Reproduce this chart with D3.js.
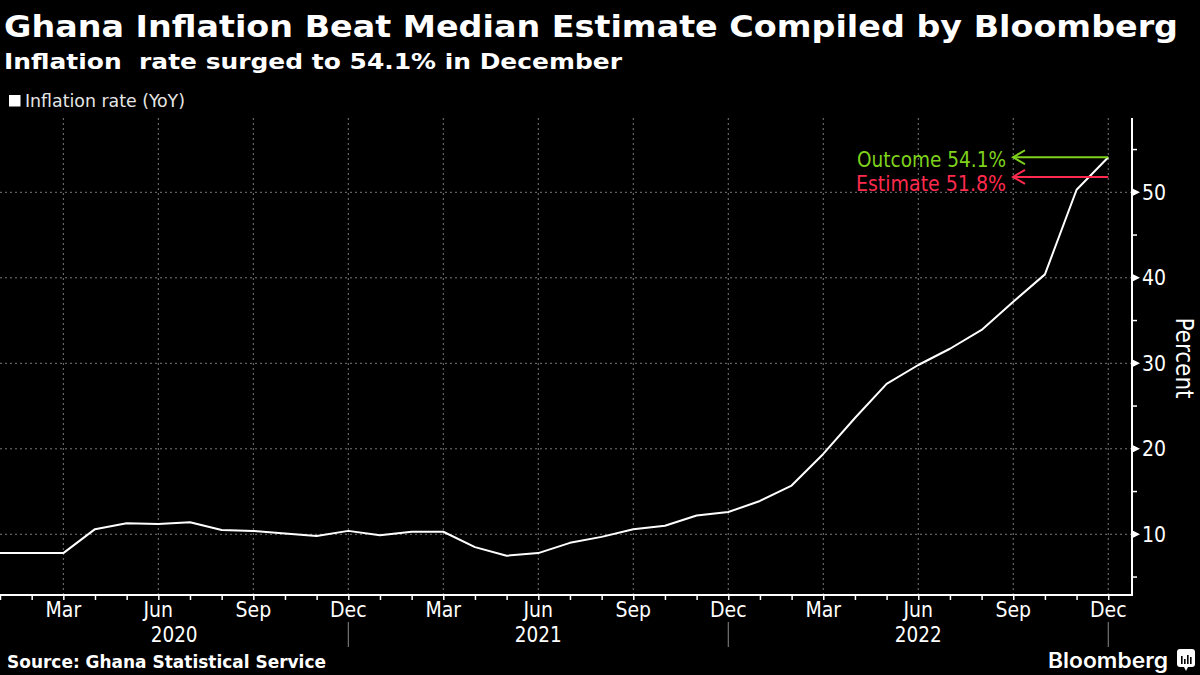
<!DOCTYPE html>
<html>
<head>
<meta charset="utf-8">
<script src="https://cdn.jsdelivr.net/npm/d3@7"></script>
<style>
  html, body { margin: 0; padding: 0; background: #000; }
  svg { display: block; }
  .cond { font-family: "DejaVu Sans Condensed", "Liberation Sans Narrow", "DejaVu Sans", sans-serif; }
  .bold { font-family: "DejaVu Sans", sans-serif; font-weight: bold; }
</style>
</head>
<body>
<svg id="chart" width="1200" height="675"></svg>
<script>
// ---- data ----
const months = [
  "2020-01","2020-02","2020-03","2020-04","2020-05","2020-06","2020-07","2020-08","2020-09","2020-10","2020-11","2020-12",
  "2021-01","2021-02","2021-03","2021-04","2021-05","2021-06","2021-07","2021-08","2021-09","2021-10","2021-11","2021-12",
  "2022-01","2022-02","2022-03","2022-04","2022-05","2022-06","2022-07","2022-08","2022-09","2022-10","2022-11","2022-12"
];
const inflation = [
  7.8, 7.8, 7.8, 10.6, 11.3, 11.2, 11.4, 10.5, 10.4, 10.1, 9.8, 10.4,
  9.9, 10.3, 10.3, 8.5, 7.5, 7.8, 9.0, 9.7, 10.6, 11.0, 12.2, 12.6,
  13.9, 15.7, 19.4, 23.6, 27.6, 29.8, 31.7, 33.9, 37.2, 40.4, 50.3, 54.1
];
const quarterMonthLabels = ["Mar", "Jun", "Sep", "Dec"];
const yearLabels = ["2020", "2021", "2022"];
const yTickValues = [10, 20, 30, 40, 50];
const yMinorTickValues = [5, 15, 25, 35, 45, 55];
const outcomeValue = 54.1;
const estimateValue = 51.8;
const title = "Ghana Inflation Beat Median Estimate Compiled by Bloomberg";
const subtitle = "Inflation\u00a0 rate surged to 54.1% in December";
const legendLabel = "Inflation rate (YoY)";
const sourceText = "Source: Ghana Statistical Service";

// ---- layout ----
const svg = d3.select("#chart");
const plot = { left: 0, right: 1132, top: 118, bottom: 595 };
const x = d3.scaleLinear().domain([0, 35.75]).range([plot.left, plot.right]);
const y = d3.scaleLinear().domain([2.9, 58.69]).range([plot.bottom, plot.top]);
const green = "#7fd21c";
const red = "#ff2a4d";
const gridColor = "#7a7a7a";

// title / subtitle
svg.append("text").attr("class", "bold").attr("x", 4).attr("y", 37)
  .attr("font-size", 31).attr("fill", "#fff")
  .attr("textLength", 1174).attr("lengthAdjust", "spacingAndGlyphs").text(title);
svg.append("text").attr("class", "bold").attr("x", 4).attr("y", 69)
  .attr("font-size", 22).attr("fill", "#fff")
  .attr("textLength", 618).attr("lengthAdjust", "spacingAndGlyphs").text(subtitle);

// legend
svg.append("rect").attr("x", 9).attr("y", 95).attr("width", 11.5).attr("height", 11.5).attr("fill", "#fff");
svg.append("text").attr("class", "cond").attr("x", 25).attr("y", 107)
  .attr("font-size", 17).attr("fill", "#e6e6e6")
  .attr("textLength", 160).attr("lengthAdjust", "spacingAndGlyphs").text(legendLabel);

// gridlines
const quarterIdx = d3.range(2, 36, 3);
svg.append("g").selectAll("line").data(quarterIdx).join("line")
  .attr("x1", d => x(d)).attr("x2", d => x(d))
  .attr("y1", plot.top).attr("y2", plot.bottom)
  .attr("stroke", gridColor).attr("stroke-width", 1).attr("stroke-dasharray", "2,3");
svg.append("g").selectAll("line").data(yTickValues).join("line")
  .attr("x1", plot.left).attr("x2", plot.right)
  .attr("y1", d => y(d)).attr("y2", d => y(d))
  .attr("stroke", gridColor).attr("stroke-width", 1).attr("stroke-dasharray", "2,3");

// x axis
const xAxis = d3.axisBottom(x).tickValues(d3.range(0, 36)).tickSize(5).tickFormat("");
const gx = svg.append("g").attr("transform", `translate(0,${plot.bottom})`).call(xAxis);
gx.select(".domain").attr("stroke", "#fff").attr("stroke-width", 2).attr("d", `M${plot.left},0H${plot.right}`);
gx.selectAll(".tick line").attr("stroke", "#fff").attr("stroke-width", 1.5);
svg.append("g").selectAll("text").data(quarterIdx).join("text")
  .attr("class", "cond").attr("x", d => x(d)).attr("y", 617)
  .attr("text-anchor", "middle").attr("font-size", 21).attr("fill", "#fff")
  .text(d => quarterMonthLabels[((d - 2) / 3) % 4]);
// year labels and separators
const yearEnds = [11, 23, 35];
svg.append("g").selectAll("line").data(yearEnds).join("line")
  .attr("x1", d => x(d)).attr("x2", d => x(d)).attr("y1", 622).attr("y2", 647)
  .attr("stroke", "#8a8a8a").attr("stroke-width", 1);
svg.append("g").selectAll("text").data(yearLabels).join("text")
  .attr("class", "cond")
  .attr("x", (d, i) => ((i === 0 ? plot.left : x(yearEnds[i - 1])) + x(yearEnds[i])) / 2)
  .attr("y", 642).attr("text-anchor", "middle").attr("font-size", 20.5).attr("fill", "#fff")
  .text(d => d);

// y axis
const gy = svg.append("g").attr("transform", `translate(${plot.right},0)`);
gy.append("line").attr("x1", 0).attr("x2", 0).attr("y1", plot.top).attr("y2", plot.bottom + 1)
  .attr("stroke", "#fff").attr("stroke-width", 2);
gy.selectAll("path.maj").data(yTickValues).join("path").attr("class", "maj")
  .attr("d", d => `M1,${y(d) - 3.5}L8,${y(d)}L1,${y(d) + 3.5}Z`).attr("fill", "#fff");
gy.selectAll("line.min").data(yMinorTickValues).join("line").attr("class", "min")
  .attr("x1", 0).attr("x2", 5).attr("y1", d => y(d)).attr("y2", d => y(d))
  .attr("stroke", "#fff").attr("stroke-width", 1.5);
gy.selectAll("text").data(yTickValues).join("text")
  .attr("class", "cond").attr("x", 10).attr("y", d => y(d) + 7.5)
  .attr("font-size", 21).attr("fill", "#fff").text(d => d);
svg.append("text").attr("class", "cond")
  .attr("transform", `translate(1176,358) rotate(90)`)
  .attr("text-anchor", "middle").attr("font-size", 24).attr("fill", "#fff").text("Percent");

// line
const line = d3.line().x((d, i) => x(i)).y(d => y(d));
svg.append("path").datum(inflation).attr("d", line)
  .attr("fill", "none").attr("stroke", "#fff").attr("stroke-width", 2).attr("stroke-linejoin", "round");

// annotations
const annotations = [
  { value: outcomeValue, label: "Outcome 54.1%", color: green, dy: 10 },
  { value: estimateValue, label: "Estimate 51.8%", color: red, dy: 14 }
];
const tipX = 1013;
const lastX = x(35);
const ag = svg.append("g");
annotations.forEach(a => {
  const yy = y(a.value);
  ag.append("line").attr("x1", tipX).attr("x2", lastX).attr("y1", yy).attr("y2", yy)
    .attr("stroke", a.color).attr("stroke-width", 2);
  ag.append("path").attr("d", `M${tipX + 12},${yy - 7}L${tipX},${yy}L${tipX + 12},${yy + 7}`)
    .attr("fill", "none").attr("stroke", a.color).attr("stroke-width", 2);
  ag.append("text").attr("class", "cond").attr("x", 1006).attr("y", yy + a.dy)
    .attr("text-anchor", "end").attr("font-size", 21).attr("fill", a.color)
    .attr("textLength", a.value === outcomeValue ? 149 : 150).attr("lengthAdjust", "spacingAndGlyphs")
    .text(a.label);
});

// footer
svg.append("text").attr("class", "bold").attr("x", 7).attr("y", 668)
  .attr("font-size", 17).attr("fill", "#fff")
  .attr("textLength", 319).attr("lengthAdjust", "spacingAndGlyphs").text(sourceText);
svg.append("text").attr("x", 1168).attr("y", 668).attr("text-anchor", "end")
  .attr("font-family", "Inter, 'Noto Sans', sans-serif").attr("font-weight", 600)
  .attr("font-size", 21).attr("fill", "#fff")
  .attr("textLength", 120).attr("lengthAdjust", "spacingAndGlyphs").text("Bloomberg");
const logo = svg.append("g").attr("transform", "translate(1177,649)");
logo.append("rect").attr("width", 18).attr("height", 18).attr("rx", 3).attr("fill", "#fff");
logo.append("path").attr("d", "M7,18L9,22L11,18Z").attr("fill", "#fff");
[[4, 8], [7, 5], [10, 9], [13, 7]].forEach(([bx, bh]) => {
  logo.append("rect").attr("x", bx).attr("y", 15 - bh).attr("width", 1.6).attr("height", bh).attr("fill", "#000");
});
</script>
</body>
</html>
